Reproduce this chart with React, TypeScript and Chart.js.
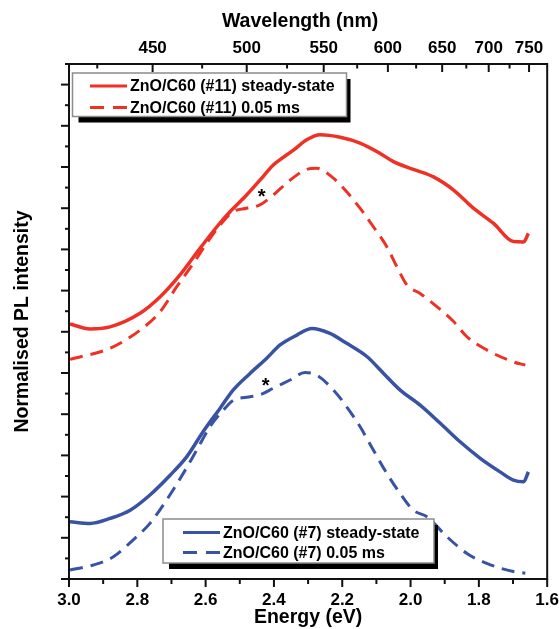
import React, { useEffect, useRef } from "react";
import { Chart, registerables } from "chart.js";

Chart.register(...registerables);

// ---------- data (photon energy in eV, normalised / offset PL intensity) ----------
const redSteadyE = [2.997, 2.938, 2.88, 2.792, 2.733, 2.675, 2.616, 2.567, 2.528, 2.48, 2.441, 2.402, 2.382, 2.343, 2.304, 2.265, 2.206, 2.148, 2.089, 2.05, 1.992, 1.933, 1.874, 1.816, 1.757, 1.699, 1.669, 1.655];
const redSteadyI = [6.19, 6.07, 6.12, 6.45, 6.85, 7.38, 8.03, 8.55, 8.92, 9.32, 9.68, 10.05, 10.18, 10.41, 10.66, 10.78, 10.72, 10.58, 10.33, 10.13, 9.94, 9.76, 9.44, 9.0, 8.63, 8.19, 8.18, 8.39];

const redFastE = [2.997, 2.88, 2.792, 2.733, 2.685, 2.636, 2.597, 2.558, 2.519, 2.48, 2.441, 2.402, 2.353, 2.304, 2.275, 2.226, 2.187, 2.148, 2.109, 2.07, 2.04, 2.011, 1.972, 1.923, 1.874, 1.835, 1.777, 1.699, 1.664];
const redFastI = [5.33, 5.6, 6.04, 6.49, 7.09, 7.66, 8.15, 8.59, 8.92, 9.0, 9.08, 9.32, 9.68, 9.94, 9.97, 9.73, 9.4, 9.0, 8.55, 8.07, 7.58, 7.14, 6.93, 6.61, 6.25, 5.88, 5.56, 5.27, 5.19];

const blueSteadyE = [2.997, 2.938, 2.88, 2.821, 2.763, 2.704, 2.655, 2.607, 2.558, 2.519, 2.47, 2.421, 2.382, 2.333, 2.289, 2.236, 2.187, 2.128, 2.079, 2.031, 1.972, 1.913, 1.855, 1.796, 1.738, 1.699, 1.669, 1.655];
const blueSteadyI = [1.39, 1.35, 1.47, 1.67, 2.04, 2.52, 2.97, 3.58, 4.14, 4.59, 4.99, 5.36, 5.68, 5.92, 6.08, 5.96, 5.72, 5.4, 4.99, 4.59, 4.22, 3.78, 3.33, 2.93, 2.6, 2.4, 2.36, 2.6];

const blueFastE = [2.997, 2.929, 2.87, 2.812, 2.763, 2.714, 2.665, 2.626, 2.587, 2.548, 2.519, 2.48, 2.441, 2.402, 2.353, 2.309, 2.275, 2.226, 2.187, 2.148, 2.109, 2.07, 2.031, 1.992, 1.952, 1.894, 1.835, 1.777, 1.699, 1.664];
const blueFastI = [0.22, 0.34, 0.54, 0.95, 1.35, 1.92, 2.57, 3.13, 3.7, 4.1, 4.34, 4.41, 4.47, 4.63, 4.83, 5.01, 4.95, 4.59, 4.18, 3.7, 3.13, 2.57, 2.08, 1.67, 1.51, 1.03, 0.62, 0.38, 0.18, 0.14];

// axis ticks
const energyMajor = [3.0, 2.8, 2.6, 2.4, 2.2, 2.0, 1.8, 1.6];
const energyMinor = [2.9, 2.7, 2.5, 2.3, 2.1, 1.9, 1.7];
const wavelengthMajor = [450, 500, 550, 600, 650, 700, 750];
const wavelengthMinor = [425, 475, 525, 575, 625, 675, 725];
const intensityMajor = [0, 1, 2, 3, 4, 5, 6, 7, 8, 9, 10, 11, 12];
const intensityMinor = [0.5, 1.5, 2.5, 3.5, 4.5, 5.5, 6.5, 7.5, 8.5, 9.5, 10.5, 11.5, 12.5];

// legend labels and annotations
const legendTop = ["ZnO/C60 (#11) steady-state", "ZnO/C60 (#11) 0.05 ms"];
const legendBottom = ["ZnO/C60 (#7) steady-state", "ZnO/C60 (#7) 0.05 ms"];
const starE = [2.436, 2.424];
const starI = [9.4, 4.81];
const topTitle = "Wavelength (nm)";

const HC = 1239.84; // eV*nm
const RED = "#EE3124";
const BLUE = "#3953A4";
const FONT = "'Liberation Sans', Arial, Helvetica, sans-serif";

const pts = (E: number[], I: number[]) => E.map((e, i) => ({ x: e, y: I[i] }));

export default function App() {
  const ref = useRef<HTMLCanvasElement>(null);

  useEffect(() => {
    document.body.style.margin = "0";
    const canvas = ref.current!;

    const decor = {
      id: "decor",
      afterDraw(chart: any) {
        const { ctx, chartArea } = chart;
        const { left, right, top, bottom } = chartArea;
        const x = chart.scales.x;
        const y = chart.scales.y;
        ctx.save();
        ctx.strokeStyle = "#111";
        ctx.lineWidth = 2;
        ctx.setLineDash([]);
        const seg = (x1: number, y1: number, x2: number, y2: number) => {
          ctx.beginPath();
          ctx.moveTo(x1, y1);
          ctx.lineTo(x2, y2);
          ctx.stroke();
        };
        energyMajor.forEach((v) => { const p = x.getPixelForValue(v); seg(p, bottom, p, bottom + 8); });
        energyMinor.forEach((v) => { const p = x.getPixelForValue(v); seg(p, bottom, p, bottom + 5); });
        wavelengthMajor.forEach((l) => { const p = x.getPixelForValue(HC / l); seg(p, top, p, top + 8); });
        wavelengthMinor.forEach((l) => { const p = x.getPixelForValue(HC / l); seg(p, top, p, top + 4.5); });
        intensityMajor.forEach((v) => { const p = y.getPixelForValue(v); seg(left - 8, p, left, p); });
        intensityMinor.forEach((v) => { const p = y.getPixelForValue(v); seg(left - 4, p, left, p); });
        ctx.strokeRect(left, top, right - left, bottom - top);

        // top axis title
        ctx.fillStyle = "#000";
        ctx.font = `bold 19.5px ${FONT}`;
        ctx.textAlign = "center";
        ctx.textBaseline = "middle";
        ctx.fillText(topTitle, (left + right) / 2 - 8, 21.5);

        // asterisks
        ctx.font = `bold 20px ${FONT}`;
        ctx.textBaseline = "alphabetic";
        starE.forEach((e, i) => {
          ctx.fillText("*", x.getPixelForValue(e), y.getPixelForValue(starI[i]) + 11.4);
        });

        // legends
        const legend = (box: number[], lx: number[], ly: number[], tx: number, color: string, labels: string[]) => {
          const [l, t, r, b] = box;
          ctx.setLineDash([]);
          ctx.fillStyle = "#000";
          ctx.fillRect(l + 6, t + 6, r - l - 2, b - t);
          ctx.fillStyle = "#fff";
          ctx.fillRect(l, t, r - l, b - t);
          ctx.strokeStyle = "#8c8c8c";
          ctx.lineWidth = 1.5;
          ctx.strokeRect(l, t, r - l, b - t);
          ctx.strokeStyle = color;
          ctx.lineWidth = 3;
          ctx.beginPath();
          ctx.moveTo(lx[0], ly[0]);
          ctx.lineTo(lx[1], ly[0]);
          ctx.stroke();
          ctx.setLineDash([14, 9]);
          ctx.beginPath();
          ctx.moveTo(lx[0], ly[1]);
          ctx.lineTo(lx[1], ly[1]);
          ctx.stroke();
          ctx.setLineDash([]);
          ctx.fillStyle = "#000";
          ctx.font = `bold 16px ${FONT}`;
          ctx.textAlign = "left";
          ctx.textBaseline = "middle";
          ctx.fillText(labels[0], tx, ly[0] + 1);
          ctx.fillText(labels[1], tx, ly[1] + 1);
        };
        legend([72.5, 73, 346.5, 116.5], [90, 127], [86, 107.5], 130, RED, legendTop);
        legend([163, 519, 434, 563], [183, 220], [532.5, 552.5], 223, BLUE, legendBottom);
        ctx.restore();
      },
    };

    const line = (data: any, color: string, dashed: boolean) => ({
      data,
      borderColor: color,
      backgroundColor: color,
      borderWidth: dashed ? 3 : 3.5,
      borderDash: dashed ? [13, 8] : [],
      pointRadius: 0,
      cubicInterpolationMode: "monotone" as const,
      fill: false,
    });

    const chart = new Chart(canvas, {
      type: "line",
      data: {
        datasets: [
          { label: legendTop[0], ...line(pts(redSteadyE, redSteadyI), RED, false) },
          { label: legendTop[1], ...line(pts(redFastE, redFastI), RED, true) },
          { label: legendBottom[0], ...line(pts(blueSteadyE, blueSteadyI), BLUE, false) },
          { label: legendBottom[1], ...line(pts(blueFastE, blueFastI), BLUE, true) },
        ],
      },
      options: {
        responsive: false,
        animation: false,
        devicePixelRatio: 1,
        layout: { padding: { left: 0, right: 0, top: 0, bottom: 0 } },
        plugins: { legend: { display: false }, tooltip: { enabled: false } },
        scales: {
          x: {
            type: "linear",
            position: "bottom",
            min: 1.6,
            max: 3.0,
            reverse: true,
            grid: { display: false, drawTicks: true, tickLength: 11 },
            border: { display: false },
            afterBuildTicks: (s: any) => { s.ticks = energyMajor.map((v) => ({ value: v })); },
            ticks: {
              autoSkip: false,
              maxRotation: 0,
              padding: 0,
              color: "#000",
              font: { family: FONT, size: 17, weight: "bold" },
              callback: (v: any) => Number(v).toFixed(1),
            },
            title: {
              display: true,
              text: "Energy (eV)",
              color: "#000",
              font: { family: FONT, size: 19.5, weight: "bold" },
              padding: { top: 0, bottom: 0 },
            },
            afterFit: (s: any) => { s.height = 50; },
          },
          x2: {
            type: "linear",
            position: "top",
            min: 1.6,
            max: 3.0,
            reverse: true,
            grid: { display: false, drawTicks: true, tickLength: 5 },
            border: { display: false },
            afterBuildTicks: (s: any) => { s.ticks = wavelengthMajor.map((l) => ({ value: HC / l })); },
            ticks: {
              autoSkip: false,
              maxRotation: 0,
              padding: 0,
              color: "#000",
              font: { family: FONT, size: 17, weight: "bold" },
              callback: (v: any) => String(Math.round(HC / Number(v))),
            },
            title: { display: false },
            afterFit: (s: any) => { s.height = 64; },
          },
          y: {
            type: "linear",
            min: 0,
            max: 12.5,
            grid: { display: false, drawTicks: false },
            border: { display: false },
            ticks: { display: false },
            title: {
              display: true,
              text: "Normalised PL intensity",
              color: "#000",
              font: { family: FONT, size: 19.5, weight: "bold" },
              padding: { top: 11, bottom: 0 },
            },
            afterFit: (s: any) => { s.width = 69; },
          },
        },
      },
      plugins: [decor],
    } as any);

    return () => chart.destroy();
  }, []);

  return <canvas ref={ref} width={559} height={629} style={{ display: "block" }} />;
}
